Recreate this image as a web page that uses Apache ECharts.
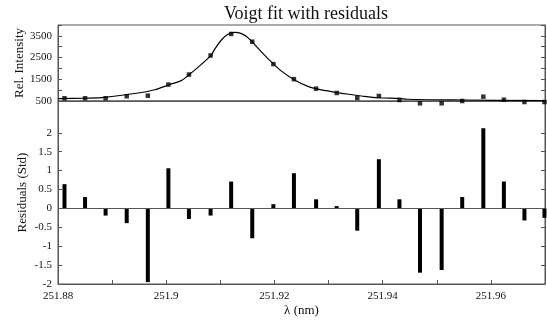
<!DOCTYPE html>
<html>
<head>
<meta charset="utf-8">
<script src="https://cdn.jsdelivr.net/npm/echarts@6/dist/echarts.min.js"></script>
<style>
html,body{margin:0;padding:0;background:#fff;}
#chart{width:547px;height:322px;}
</style>
</head>
<body>
<div id="chart"></div>
<script>
// ---- data ----
const wavelength = [251.8812, 251.8850, 251.8888, 251.8927, 251.8966, 251.9004, 251.9042, 251.9082,
  251.9120, 251.9159, 251.9198, 251.9236, 251.9277, 251.9315, 251.9353, 251.9393,
  251.9431, 251.9469, 251.9509, 251.9547, 251.9586, 251.9624, 251.9662, 251.9699];
const intensity = [625, 625, 625, 718, 745, 1255, 1718, 2597, 3588, 3231, 2199, 1505,
  1069, 870, 639, 731, 546, 394, 394, 500, 699, 560, 454, 454];
const residuals = [0.64, 0.30, -0.19, -0.39, -1.95, 1.06, -0.28, -0.19, 0.71, -0.79, 0.11, 0.93,
  0.24, 0.06, -0.59, 1.30, 0.24, -1.70, -1.63, 0.30, 2.12, 0.71, -0.32, -0.25];
const fitX = [251.8800, 251.8849, 251.8886, 251.8948, 251.8979, 251.9005, 251.9028, 251.9042,
  251.9059, 251.9082, 251.9090, 251.9102, 251.9114, 251.9127, 251.9139, 251.9151,
  251.9170, 251.9189, 251.9213, 251.9238, 251.9263, 251.9287, 251.9312, 251.9337,
  251.9361, 251.9392, 251.9432, 251.9445, 251.9547, 251.9700];
const fitY = [605, 630, 670, 867, 1018, 1248, 1440, 1706, 2060, 2578, 2900, 3310, 3570, 3662,
  3602, 3417, 2921, 2431, 1875, 1458, 1162, 1009, 903, 810, 731, 650, 620, 580, 546, 514];

const xTickValues = [251.88, 251.89, 251.90, 251.91, 251.92, 251.93, 251.94, 251.95, 251.96, 251.97];
const xLabelValues = [251.88, 251.90, 251.92, 251.94, 251.96];
const xLabelTexts = ['251.88', '251.9', '251.92', '251.94', '251.96'];
const intensityTickValues = [500, 1000, 1500, 2000, 2500, 3000, 3500, 4000];
const intensityLabelValues = [500, 1500, 2500, 3500];
const intensityLabelTexts = ['500', '1500', '2500', '3500'];
const residTickValues = [-2, -1.5, -1, -0.5, 0, 0.5, 1, 1.5, 2];
const residLabelTexts = ['-2', '-1.5', '-1', '-0.5', '0', '0.5', '1', '1.5', '2'];

const titleText = 'Voigt fit with residuals';
const yNameTop = 'Rel. Intensity';
const yNameBottom = 'Residuals (Std)';
const xName = 'λ (nm)';

// ---- chart ----
const FONT = 'Liberation Serif';
const AXC = '#555';
const chart = echarts.init(document.getElementById('chart'), null, {renderer: 'canvas'});

function labelFrom(values, texts) {
  return function (v) {
    for (let i = 0; i < values.length; i++) {
      if (Math.abs(values[i] - v) < 1e-6) return texts[i];
    }
    return '';
  };
}

const tickStyle = {show: true, inside: true, length: 4, lineStyle: {color: AXC, width: 1}};
const lineStyleAx = {show: true, onZero: false, lineStyle: {color: AXC, width: 1}};
const labelFont = {fontFamily: FONT, fontSize: 11, color: '#111'};
const nameFont = {fontFamily: FONT, fontSize: 13, color: '#111'};

const option = {
  animation: false,
  backgroundColor: '#fff',
  title: {
    text: titleText, left: 301, top: 0, textAlign: 'center',
    textStyle: {fontFamily: FONT, fontSize: 18, fontWeight: 'normal', color: '#111'}
  },
  grid: [
    {left: 58, right: 2, top: 25, height: 76, show: true, borderColor: AXC, borderWidth: 1, backgroundColor: 'transparent'},
    {left: 58, right: 2, top: 101, height: 186.5, show: true, borderColor: AXC, borderWidth: 1, backgroundColor: 'transparent'}
  ],
  xAxis: [
    {gridIndex: 0, type: 'value', min: 251.88, max: 251.97, position: 'bottom',
      axisLine: lineStyleAx, axisTick: {show: false}, axisLabel: {show: false}, splitLine: {show: false}},
    {gridIndex: 1, type: 'value', min: 251.88, max: 251.97, position: 'bottom',
      axisLine: lineStyleAx,
      axisTick: Object.assign({}, tickStyle, {customValues: xTickValues}),
      axisLabel: Object.assign({}, labelFont, {customValues: xLabelValues, margin: 7,
        formatter: labelFrom(xLabelValues, xLabelTexts)}),
      splitLine: {show: false},
      name: xName, nameLocation: 'middle', nameGap: 20, nameMoveOverlap: false,
      nameTextStyle: nameFont}
  ],
  yAxis: [
    {gridIndex: 0, type: 'value', min: 500, max: 4000, position: 'left',
      axisLine: lineStyleAx,
      axisTick: Object.assign({}, tickStyle, {customValues: intensityTickValues}),
      axisLabel: Object.assign({}, labelFont, {customValues: intensityLabelValues, margin: 6,
        formatter: labelFrom(intensityLabelValues, intensityLabelTexts)}),
      splitLine: {show: false},
      name: yNameTop, nameLocation: 'middle', nameGap: 32, nameRotate: 90, nameMoveOverlap: false,
      nameTextStyle: nameFont},
    {gridIndex: 0, type: 'value', min: 500, max: 4000, position: 'right',
      axisLine: lineStyleAx,
      axisTick: Object.assign({}, tickStyle, {customValues: intensityTickValues}),
      axisLabel: {show: false}, splitLine: {show: false}},
    {gridIndex: 1, type: 'value', min: -2, max: 2.84, position: 'left',
      axisLine: lineStyleAx,
      axisTick: Object.assign({}, tickStyle, {customValues: residTickValues}),
      axisLabel: Object.assign({}, labelFont, {customValues: residTickValues, margin: 6,
        formatter: labelFrom(residTickValues, residLabelTexts)}),
      splitLine: {show: false},
      name: yNameBottom, nameLocation: 'middle', nameGap: 29, nameRotate: 90, nameMoveOverlap: false,
      nameTextStyle: nameFont},
    {gridIndex: 1, type: 'value', min: -2, max: 2.84, position: 'right',
      axisLine: lineStyleAx,
      axisTick: Object.assign({}, tickStyle, {customValues: residTickValues}),
      axisLabel: {show: false}, splitLine: {show: false}}
  ],
  series: [
    {type: 'line', name: 'fit', xAxisIndex: 0, yAxisIndex: 0,
      data: fitX.map((x, i) => [x, fitY[i]]),
      smooth: 0.3, showSymbol: false, symbol: 'none',
      lineStyle: {color: '#000', width: 1.2}, z: 3},
    {type: 'scatter', name: 'data', xAxisIndex: 0, yAxisIndex: 0,
      data: wavelength.map((x, i) => [x, intensity[i]]),
      symbol: 'rect', symbolSize: 4.5, itemStyle: {color: '#000'}, clip: false, z: 4},
    {type: 'bar', name: 'residuals', xAxisIndex: 1, yAxisIndex: 2,
      data: wavelength.map((x, i) => [x, residuals[i]]),
      barWidth: 4, itemStyle: {color: '#000'},
      markLine: {silent: true, symbol: 'none', label: {show: false},
        lineStyle: {color: AXC, width: 1, type: 'solid'},
        data: [{yAxis: 0}]}}
  ]
};
chart.setOption(option);
</script>
</body>
</html>
